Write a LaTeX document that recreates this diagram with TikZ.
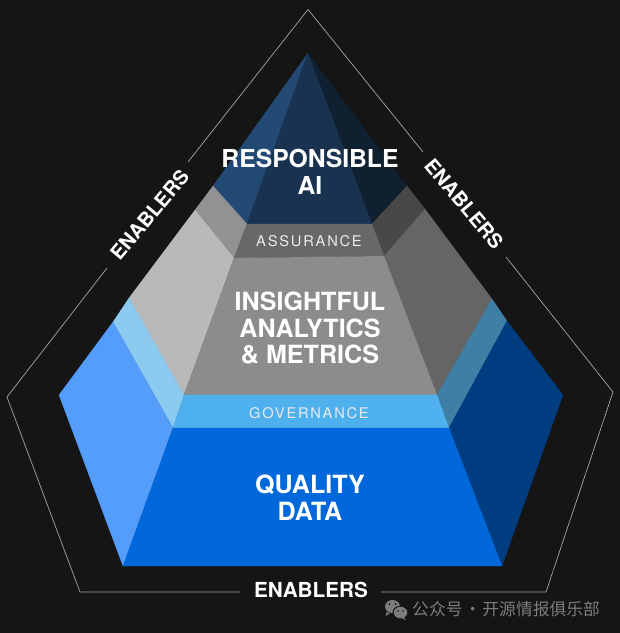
\documentclass[tikz,border=0pt]{standalone}
\usepackage{fontspec}
\setmainfont{TeX Gyre Heros}
\newfontfamily\cjkfont{Noto Sans CJK SC}
\newfontfamily\tracked[LetterSpace=12]{TeX Gyre Heros}
\definecolor{bgc}{HTML}{151515}
\definecolor{linec}{HTML}{A6A6A6}
\definecolor{markc}{HTML}{7C7C7C}
\definecolor{raiL}{HTML}{234A74}
\definecolor{raiC}{HTML}{183250}
\definecolor{raiR}{HTML}{0F2030}
\definecolor{assL}{HTML}{929292}
\definecolor{assC}{HTML}{686868}
\definecolor{assR}{HTML}{484848}
\definecolor{insL}{HTML}{B9B9B9}
\definecolor{insC}{HTML}{8C8C8C}
\definecolor{insR}{HTML}{656565}
\definecolor{govL}{HTML}{8CCBEF}
\definecolor{govC}{HTML}{4FB0EE}
\definecolor{govR}{HTML}{3F7FA6}
\definecolor{quaL}{HTML}{559DFA}
\definecolor{quaC}{HTML}{0068DB}
\definecolor{quaR}{HTML}{003C80}
\tikzset{
  face/.style={fill=#1,draw=#1,line width=.2pt,line join=round},
  boundary/.style={draw=linec,line width=.7pt,line join=miter},
  title/.style={text=white,font=\bfseries\fontsize{25.1}{26.7}\selectfont,align=center,inner sep=0pt},
  tier/.style={text=white!92!black,font=\tracked\fontsize{14.7}{16}\selectfont,inner sep=0pt},
  enab/.style={text=white,font=\bfseries\fontsize{20}{22}\selectfont,inner sep=0pt},
}
\begin{document}
\begin{tikzpicture}[x=1pt,y=-1pt]
\useasboundingbox (0,0) rectangle (620,633);
\fill[bgc] (0,0) rectangle (620,633);
% named corners of the pyramid
\coordinate (apex) at (308,53);
\coordinate (a1) at (213,186);  \coordinate (b1) at (407,186);
\coordinate (c1) at (247,224);  \coordinate (d1) at (372,224);
\coordinate (a2) at (195,210);  \coordinate (b2) at (425,209);
\coordinate (c2) at (234,258);  \coordinate (d2) at (384,256);
\coordinate (a3) at (129,298);  \coordinate (b3) at (492,299);
\coordinate (c3) at (184,395);  \coordinate (d3) at (437,395);
\coordinate (a4) at (113,322);  \coordinate (b4) at (507,321);
\coordinate (c4) at (173,428);  \coordinate (d4) at (449,428);
\coordinate (a5) at (59,395);   \coordinate (b5) at (563,395);
\coordinate (c5) at (123,566);  \coordinate (d5) at (502,566);
% responsible AI
\path[face=raiL] (apex)--(a1)--(c1)--cycle;
\path[face=raiR] (apex)--(b1)--(d1)--cycle;
\path[face=raiC] (apex)--(c1)--(d1)--cycle;
% assurance
\path[face=assL] (a1)--(c1)--(c2)--(a2)--cycle;
\path[face=assR] (b1)--(d1)--(d2)--(b2)--cycle;
\path[face=assC] (c1)--(d1)--(d2)--(c2)--cycle;
% insightful analytics
\path[face=insL] (a2)--(c2)--(c3)--(a3)--cycle;
\path[face=insR] (b2)--(d2)--(d3)--(b3)--cycle;
\path[face=insC] (c2)--(d2)--(d3)--(c3)--cycle;
% governance
\path[face=govL] (a3)--(c3)--(c4)--(a4)--cycle;
\path[face=govR] (b3)--(d3)--(d4)--(b4)--cycle;
\path[face=govC] (c3)--(d3)--(d4)--(c4)--cycle;
% quality data
\path[face=quaL] (a4)--(c4)--(c5)--(a5)--cycle;
\path[face=quaR] (b4)--(d4)--(d5)--(b5)--cycle;
\path[face=quaC] (c4)--(d4)--(d5)--(c5)--cycle;
% labels
\node[title,font=\bfseries\fontsize{24.7}{26.7}\selectfont] (rai) at (310,172) {RESPONSIBLE\\AI};
\node[tier] (ass) at (309,241.5) {ASSURANCE};
\node[title] (ins) at (310,328) {INSIGHTFUL\\ANALYTICS\\\&~METRICS};
\node[tier] (gov) at (309,413.5) {GOVERNANCE};
\node[title] (qua) at (310,498) {QUALITY\\DATA};
% enablers
\node[enab,rotate=50] (enL) at (149.5,215) {ENABLERS};
\node[enab,rotate=-50] (enR) at (464,204) {ENABLERS};
\node[enab,font=\bfseries\fontsize{20.7}{22}\selectfont] (enB) at (311,590) {ENABLERS};
% boundary
\draw[boundary] (188,162)--(308,9.5)--(423,152);
\draw[boundary] (107,268)--(7,397)--(80,592)--(240,592);
\draw[boundary] (381,592)--(546,592)--(613,392)--(506,257);
% watermark
\fill[markc] (392.5,606.5) ellipse (7.5 and 6.5);
\fill[markc] (386.5,612)--(385.5,616)--(390,613.5)--cycle;
\fill[bgc] (400.5,612.5) ellipse (8 and 6.8);
\fill[markc] (400.5,612.5) ellipse (6.8 and 5.7);
\fill[markc] (404,617)--(406,620)--(401.5,618)--cycle;
\fill[bgc] (389.5,604) circle (1) (395.5,604) circle (1) (398,611) circle (.9) (403,611) circle (.9);
\node[text=markc,anchor=west,inner sep=0pt,font=\cjkfont\fontsize{16.8}{18}\selectfont] (wm) at (412,609.5) {公众号\hspace{-2pt} · \hspace{-2.5pt}开源情报俱乐部};
\end{tikzpicture}
\end{document}
